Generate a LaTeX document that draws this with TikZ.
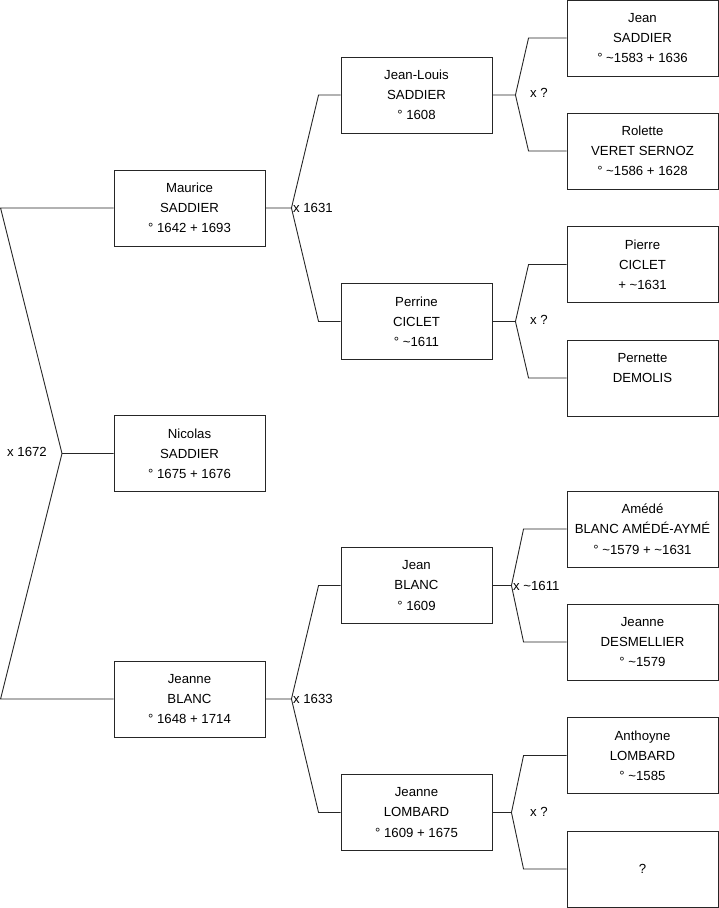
\documentclass[tikz,border=0pt]{standalone}
\usepackage{fontspec}
\setmainfont{Liberation Sans}
\usepackage{tikz}
\usetikzlibrary{positioning}

\begin{document}
\begin{tikzpicture}[x=1pt, y=-1pt,
  person/.style={draw=black!85, line width=0.9pt, minimum width=151pt, minimum height=76pt,
    inner sep=0pt, align=center, font=\fontsize{13.2}{20.2}\selectfont},
  link/.style={draw=black!85, line width=0.9pt},
  marr/.style={font=\fontsize{13.2}{15}\selectfont, inner sep=1.5pt}]
\useasboundingbox (0,0) rectangle (719,908);
% generation 1
\node[person] (nicolas) at (189.5,453.5) {Nicolas\\SADDIER\\° 1675 + 1676};
% generation 2
\node[person] (maurice) at (189.5,208)   {Maurice\\SADDIER\\° 1642 + 1693};
\node[person] (jeanne)  at (189.5,699)   {Jeanne\\BLANC\\° 1648 + 1714};
% generation 3
\node[person] (jeanlouis) at (416.5,95)    {Jean-Louis\\SADDIER\\° 1608};
\node[person] (perrine)   at (416.5,321.5) {Perrine\\CICLET\\° \textasciitilde1611};
\node[person] (jeanb)     at (416.5,585.5) {Jean\\BLANC\\° 1609};
\node[person] (jeannel)   at (416.5,812.5) {Jeanne\\LOMBARD\\° 1609 + 1675};
% generation 4
\node[person] (jeans)      at (642.5,38)    {Jean\\SADDIER\\° \textasciitilde1583 + 1636};
\node[person] (rolette)    at (642.5,151)   {Rolette\\VERET SERNOZ\\° \textasciitilde1586 + 1628};
\node[person] (pierre)     at (642.5,264.5) {Pierre\\CICLET\\+ \textasciitilde1631};
\node[person] (pernette)   at (642.5,378)   {Pernette\\DEMOLIS\\\mbox{}};
\node[person] (amede)      at (642.5,529)   {Amédé\\BLANC AMÉDÉ-AYMÉ\\° \textasciitilde1579 + \textasciitilde1631};
\node[person] (desmellier) at (642.5,642)   {Jeanne\\DESMELLIER\\° \textasciitilde1579};
\node[person] (anthoyne)   at (642.5,755.5) {Anthoyne\\LOMBARD\\° \textasciitilde1585};
\node[person] (unknown)    at (642.5,869)   {?};
% parents of nicolas
\coordinate (root) at (62,453.5);
\draw[link] (nicolas.west) -- (root) -- ([xshift=-113]maurice.west) -- (maurice.west)
  (root) -- ([xshift=-113]jeanne.west) -- (jeanne.west);
% parents of the others
\foreach \p/\u/\l/\d/\e in {maurice/jeanlouis/perrine/26/22, jeanne/jeanb/jeannel/26/22,
    jeanlouis/jeans/rolette/23/38, perrine/pierre/pernette/23/38,
    jeanb/amede/desmellier/19/43, jeannel/anthoyne/unknown/19/43}
  \draw[link] (\p.east) -- ++(\d,0) coordinate (\p-x) -- ([xshift=-\e]\u.west) -- (\u.west)
    (\p-x) -- ([xshift=-\e]\l.west) -- (\l.west);
% marriages
\node[marr] (m1) at (27,452) {x 1672};
\node[marr, anchor=west] (m2) at (maurice-x) {x 1631};
\node[marr, anchor=west] (m3) at (jeanne-x) {x 1633};
\node[marr] (m4) at (539,93)  {x ?};
\node[marr] (m5) at (539,320) {x ?};
\node[marr, anchor=west] (m6) at (jeanb-x) {x \textasciitilde1611};
\node[marr] (m7) at (539,812) {x ?};
\end{tikzpicture}
\end{document}
